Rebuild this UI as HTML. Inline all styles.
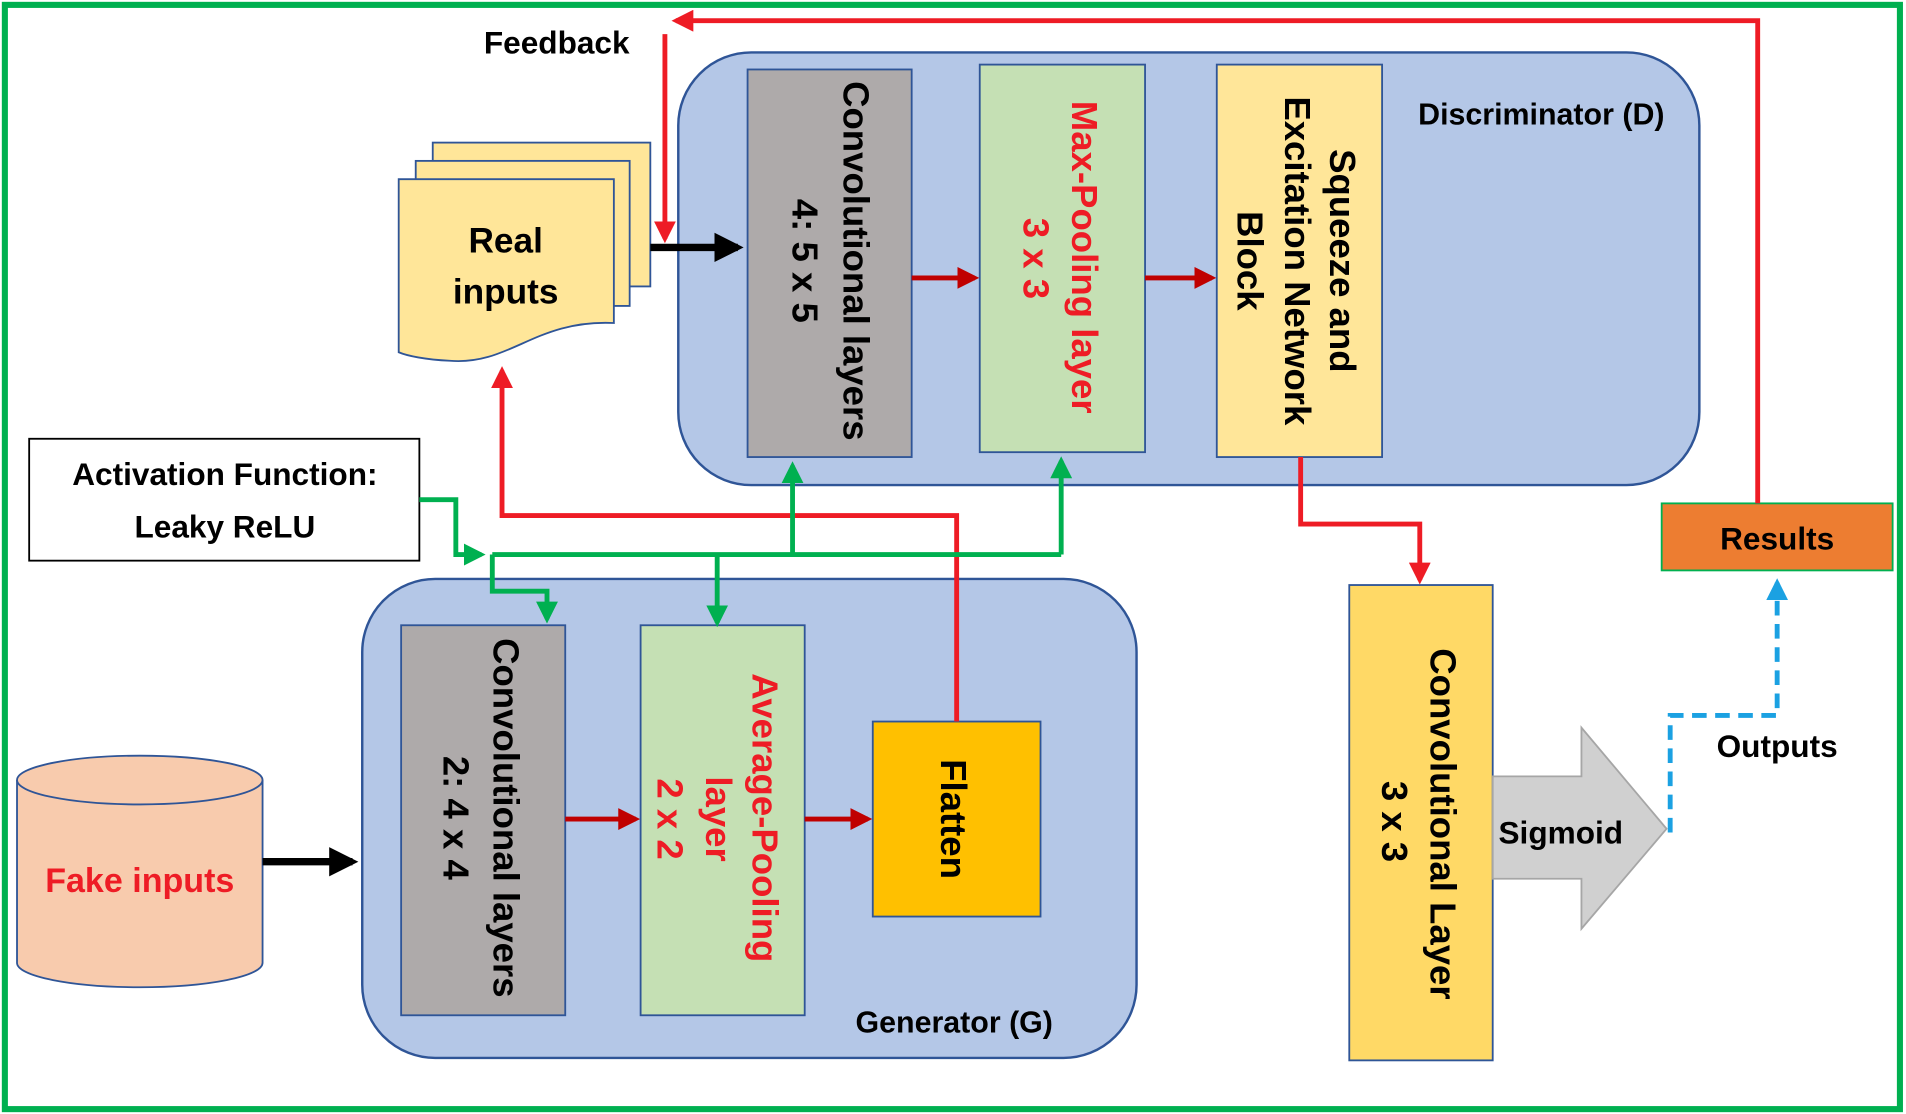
<!DOCTYPE html>
<html><head><meta charset="utf-8"><style>
html,body{margin:0;padding:0;background:#fff;}
svg{display:block;}
text{font-family:"Liberation Sans",sans-serif;font-weight:bold;}
</style></head><body>
<svg width="1906" height="1114" viewBox="0 0 1568 914" preserveAspectRatio="none" xmlns="http://www.w3.org/2000/svg">
<defs>
<marker id="ar" viewBox="0 0 10 10" refX="8" refY="5" markerWidth="4.5" markerHeight="4.5" orient="auto"><path d="M0,0L10,5L0,10z" fill="#ee1c25"/></marker>
<marker id="ad" viewBox="0 0 10 10" refX="8" refY="5" markerWidth="4.5" markerHeight="4.5" orient="auto"><path d="M0,0L10,5L0,10z" fill="#c00000"/></marker>
<marker id="ag" viewBox="0 0 10 10" refX="8" refY="5" markerWidth="4.5" markerHeight="4.5" orient="auto"><path d="M0,0L10,5L0,10z" fill="#00b050"/></marker>
<marker id="ab" viewBox="0 0 10 10" refX="8" refY="5" markerWidth="4" markerHeight="4.5" orient="auto"><path d="M0,0L10,5L0,10z" fill="#000"/></marker>
<marker id="ac" viewBox="0 0 10 10" refX="8" refY="5" markerWidth="4.5" markerHeight="4.5" orient="auto"><path d="M0,0L10,5L0,10z" fill="#1ba1e2"/></marker>
</defs>
<rect x="4" y="4" width="1559" height="906" fill="#fff" stroke="#00b050" stroke-width="5"/>

<!-- Discriminator -->
<rect x="558" y="43" width="840" height="355" rx="60" fill="#b4c7e7" stroke="#2f5597" stroke-width="2"/>
<text x="1268" y="102" font-size="25" text-anchor="middle">Discriminator (D)</text>
<rect x="615" y="57" width="135" height="318" fill="#aeaaaa" stroke="#2f5597" stroke-width="1.5"/>
<rect x="806" y="53" width="136" height="318" fill="#c5e0b4" stroke="#2f5597" stroke-width="1.5"/>
<rect x="1001" y="53" width="136" height="322" fill="#ffe699" stroke="#2f5597" stroke-width="1.5"/>
<g font-size="30">
<text transform="translate(694,214) rotate(90)" text-anchor="middle">Convolutional layers</text>
<text transform="translate(652,214) rotate(90)" text-anchor="middle">4: 5 x 5</text>
<text transform="translate(882,211) rotate(90)" text-anchor="middle" fill="#ee1c25">Max-Pooling layer</text>
<text transform="translate(842,212) rotate(90)" text-anchor="middle" fill="#ee1c25">3 x 3</text>
<text transform="translate(1094,214) rotate(90)" text-anchor="middle">Squeeze and</text>
<text transform="translate(1057,214) rotate(90)" text-anchor="middle">Excitation Network</text>
<text transform="translate(1018,214) rotate(90)" text-anchor="middle">Block</text>
</g>

<!-- Generator -->
<rect x="298" y="475" width="637" height="393" rx="60" fill="#b4c7e7" stroke="#2f5597" stroke-width="2"/>
<text x="785" y="847" font-size="25" text-anchor="middle">Generator (G)</text>
<rect x="330" y="513" width="135" height="320" fill="#aeaaaa" stroke="#2f5597" stroke-width="1.5"/>
<rect x="527" y="513" width="135" height="320" fill="#c5e0b4" stroke="#2f5597" stroke-width="1.5"/>
<rect x="718" y="592" width="138" height="160" fill="#ffc000" stroke="#2f5597" stroke-width="1.5"/>
<g font-size="30">
<text transform="translate(406,671) rotate(90)" text-anchor="middle">Convolutional layers</text>
<text transform="translate(365,671) rotate(90)" text-anchor="middle">2: 4 x 4</text>
<text transform="translate(619,671) rotate(90)" text-anchor="middle" fill="#ee1c25">Average-Pooling</text>
<text transform="translate(581,672) rotate(90)" text-anchor="middle" fill="#ee1c25">layer</text>
<text transform="translate(541,672) rotate(90)" text-anchor="middle" fill="#ee1c25">2 x 2</text>
<text transform="translate(774,672) rotate(90)" text-anchor="middle">Flatten</text>
</g>

<!-- Conv layer 3x3 -->
<rect x="1110" y="480" width="118" height="390" fill="#ffd966" stroke="#2f5597" stroke-width="1.5"/>
<text transform="translate(1177,676) rotate(90)" font-size="30" text-anchor="middle">Convolutional Layer</text>
<text transform="translate(1137,674) rotate(90)" font-size="30" text-anchor="middle">3 x 3</text>

<!-- Sigmoid arrow -->
<path d="M1228,637 L1301,637 L1301,597 L1371,680 L1301,762 L1301,721 L1228,721 Z" fill="#d0d0d0" stroke="#a6a6a6" stroke-width="1.5"/>
<text x="1284" y="692" font-size="26" text-anchor="middle">Sigmoid</text>

<!-- Results -->
<rect x="1367" y="413" width="190" height="55" fill="#ed7d31" stroke="#00b050" stroke-width="1.5"/>
<text x="1462" y="451" font-size="26" text-anchor="middle">Results</text>
<text x="1462" y="621" font-size="26" text-anchor="middle">Outputs</text>
<path d="M1374,683 L1374,587 L1462,587 L1462,478" fill="none" stroke="#1ba1e2" stroke-width="4" stroke-dasharray="12,7" marker-end="url(#ac)"/>

<!-- Fake inputs cylinder -->
<path d="M14,640 L14,790 A101,20 0 0 0 216,790 L216,640" fill="#f8cbad" stroke="#2f5597" stroke-width="1.5"/>
<ellipse cx="115" cy="640" rx="101" ry="20" fill="#f8cbad" stroke="#2f5597" stroke-width="1.5"/>
<text x="115" y="732" font-size="28" text-anchor="middle" fill="#ee1c25">Fake inputs</text>
<line x1="216" y1="707" x2="290" y2="707" stroke="#000" stroke-width="6" marker-end="url(#ab)"/>

<!-- Real inputs -->
<rect x="356" y="117" width="179" height="118" fill="#ffe699" stroke="#2f5597" stroke-width="1.5"/>
<rect x="342" y="132" width="176" height="119" fill="#ffe699" stroke="#2f5597" stroke-width="1.5"/>
<path d="M328,147 L505,147 L505,265 C440,262 420,300 370,296 C350,295 335,292 328,289 Z" fill="#ffe699" stroke="#2f5597" stroke-width="1.5"/>
<text x="416" y="207" font-size="29" text-anchor="middle">Real</text>
<text x="416" y="249" font-size="29" text-anchor="middle">inputs</text>
<line x1="535" y1="203" x2="607" y2="203" stroke="#000" stroke-width="6" marker-end="url(#ab)"/>

<!-- Activation box -->
<rect x="24" y="360" width="321" height="100" fill="#fff" stroke="#000" stroke-width="1.5"/>
<text x="185" y="398" font-size="26" text-anchor="middle">Activation Function:</text>
<text x="185" y="441" font-size="26" text-anchor="middle">Leaky ReLU</text>

<!-- Red feedback -->
<path d="M1446,413 L1446,17 L556,17" fill="none" stroke="#ee1c25" stroke-width="4" marker-end="url(#ar)"/>
<path d="M547,28 L547,196" fill="none" stroke="#ee1c25" stroke-width="4" marker-end="url(#ar)"/>
<text x="458" y="44" font-size="26" text-anchor="middle">Feedback</text>
<path d="M787,592 L787,423 L413,423 L413,304" fill="none" stroke="#ee1c25" stroke-width="4" marker-end="url(#ar)"/>
<path d="M1070,375 L1070,430 L1168,430 L1168,476" fill="none" stroke="#ee1c25" stroke-width="4" marker-end="url(#ar)"/>

<!-- Dark red inner arrows -->
<line x1="750" y1="228" x2="802" y2="228" stroke="#c00000" stroke-width="4" marker-end="url(#ad)"/>
<line x1="942" y1="228" x2="997" y2="228" stroke="#c00000" stroke-width="4" marker-end="url(#ad)"/>
<line x1="465" y1="672" x2="523" y2="672" stroke="#c00000" stroke-width="4" marker-end="url(#ad)"/>
<line x1="662" y1="672" x2="714" y2="672" stroke="#c00000" stroke-width="4" marker-end="url(#ad)"/>

<!-- Green -->
<g fill="none" stroke="#00b050" stroke-width="4">
<path d="M345,410 L375,410 L375,455 L396,455" marker-end="url(#ag)"/>
<path d="M405,455 L873,455"/>
<path d="M652,455 L652,382" marker-end="url(#ag)"/>
<path d="M873,455 L873,378" marker-end="url(#ag)"/>
<path d="M405,455 L405,485 L450,485 L450,508" marker-end="url(#ag)"/>
<path d="M590,455 L590,511" marker-end="url(#ag)"/>
</g>
</svg>
</body></html>
